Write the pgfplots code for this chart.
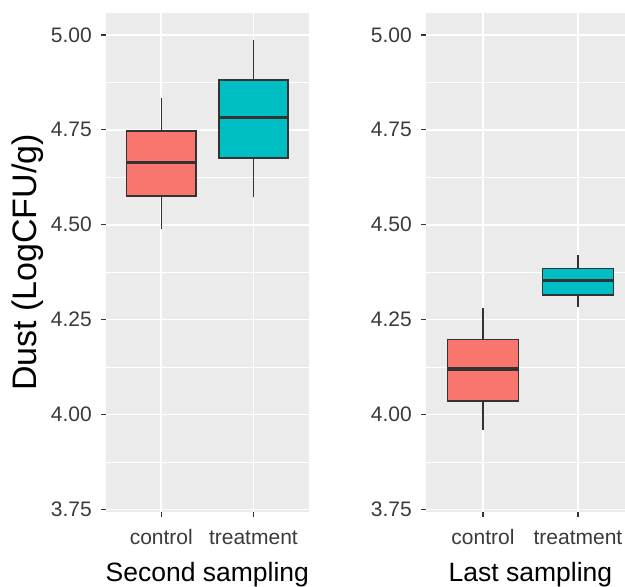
\documentclass[border=0pt]{standalone}
\usepackage{fontspec}
\setmainfont{Liberation Sans}
\usepackage{pgfplots}
\pgfplotsset{compat=1.18}
\definecolor{ggred}{HTML}{F8766D}
\definecolor{ggcyan}{HTML}{00BFC4}
\definecolor{ggbg}{HTML}{EBEBEB}
\definecolor{gg20}{HTML}{333333}
\definecolor{gg30}{HTML}{3A3A3A}
\pgfplotsset{ggpanel/.style={
  scale only axis, height=499pt,
  ymin=3.743, ymax=5.058,
  ytick={3.75,4,4.25,4.5,4.75,5},
  yticklabels={3.75,4.00,4.25,4.50,4.75,5.00},
  minor y tick num=1,
  xtick={1,2}, xticklabels={control,treatment},
  axis background/.style={fill=ggbg},
  axis line style={draw=none},
  ymajorgrids, yminorgrids, xmajorgrids,
  major grid style={white, line width=1.6pt},
  minor grid style={white, line width=0.8pt},
  tick align=outside,
  major tick length=5pt, minor tick length=0pt,
  tick style={gg20, line width=1.2pt},
  tick pos=left,
  ticklabel style={font=\fontsize{21}{21}\selectfont, text=gg30},
  /pgf/number format/assume math mode=true,
  yticklabel style={anchor=east, inner sep=0pt, xshift=-9pt},
  xticklabel style={anchor=base, inner sep=0pt, yshift=-28pt},
  xlabel style={font=\fontsize{26.5}{26.5}\selectfont, text=black, anchor=base, inner sep=0pt, yshift=-69.5pt},
  whisk/.style={gg20, line width=1.5pt, mark=none},
  boxs/.style={draw=gg20, line width=1.4pt, mark=none, line join=miter, line cap=rect},
  med/.style={gg20, line width=3.2pt, mark=none},
}}
\begin{document}
\begin{tikzpicture}
\useasboundingbox (0,0) rectangle (625pt,587pt);
\begin{axis}[ggpanel, width=202.7pt, xmin=0.4, xmax=2.6,
  at={(106pt,75pt)}, anchor=south west,
  xlabel={Second sampling},
  xlabel style={at={(axis description cs:0.5,0)}},
  ylabel={Dust (LogCFU/g)},
  ylabel style={at={(axis description cs:-0.342,0.5)}, anchor=base, inner sep=0pt, font=\fontsize{34}{34}\selectfont, text=black}]
% control: whiskers 4.489-4.833, box 4.576-4.747, median 4.663
\addplot[whisk] coordinates {(1,4.489) (1,4.576)};
\addplot[whisk] coordinates {(1,4.747) (1,4.833)};
\addplot[boxs, fill=ggred] coordinates {(0.625,4.576) (1.375,4.576) (1.375,4.747) (0.625,4.747) (0.625,4.576)};
\addplot[med] coordinates {(0.625,4.663) (1.375,4.663)};
% treatment: whiskers 4.574-4.987, box 4.676-4.881, median 4.782
\addplot[whisk] coordinates {(2,4.574) (2,4.676)};
\addplot[whisk] coordinates {(2,4.881) (2,4.987)};
\addplot[boxs, fill=ggcyan] coordinates {(1.625,4.676) (2.375,4.676) (2.375,4.881) (1.625,4.881) (1.625,4.676)};
\addplot[med] coordinates {(1.625,4.782) (2.375,4.782)};
\end{axis}
\begin{axis}[ggpanel, width=199pt, xmin=0.4, xmax=2.495,
  at={(426pt,75pt)}, anchor=south west,
  xlabel={Last sampling},
  xlabel style={at={(axis description cs:0.525,0)}}]
% control: whiskers 3.959-4.280, box 4.036-4.198, median 4.120
\addplot[whisk] coordinates {(1,3.959) (1,4.036)};
\addplot[whisk] coordinates {(1,4.198) (1,4.280)};
\addplot[boxs, fill=ggred] coordinates {(0.625,4.036) (1.375,4.036) (1.375,4.198) (0.625,4.198) (0.625,4.036)};
\addplot[med] coordinates {(0.625,4.120) (1.375,4.120)};
% treatment: whiskers 4.282-4.420, box 4.315-4.384, median 4.354
\addplot[whisk] coordinates {(2,4.282) (2,4.315)};
\addplot[whisk] coordinates {(2,4.384) (2,4.420)};
\addplot[boxs, fill=ggcyan] coordinates {(1.625,4.315) (2.375,4.315) (2.375,4.384) (1.625,4.384) (1.625,4.315)};
\addplot[med] coordinates {(1.625,4.354) (2.375,4.354)};
\end{axis}
\end{tikzpicture}
\end{document}
